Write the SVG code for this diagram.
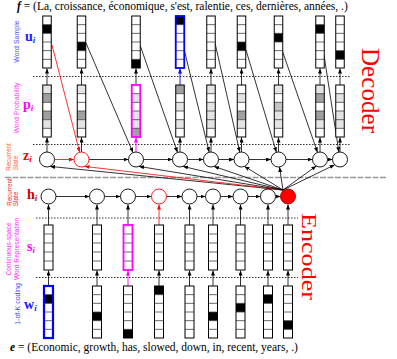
<svg xmlns="http://www.w3.org/2000/svg" xmlns:xlink="http://www.w3.org/1999/xlink" width="397" height="359" viewBox="0 0 397 359">
<defs>
<marker id="ak" viewBox="0 0 10 8" refX="10" refY="4" markerWidth="5" markerHeight="4" orient="auto" markerUnits="userSpaceOnUse"><path d="M0,0L10,4L0,8z" fill="#000"/></marker>
<marker id="ar" viewBox="0 0 10 8" refX="10" refY="4" markerWidth="5" markerHeight="4" orient="auto" markerUnits="userSpaceOnUse"><path d="M0,0L10,4L0,8z" fill="#ff0000"/></marker>
<marker id="am" viewBox="0 0 10 8" refX="10" refY="4" markerWidth="5" markerHeight="4" orient="auto" markerUnits="userSpaceOnUse"><path d="M0,0L10,4L0,8z" fill="#ff00ff"/></marker>
<marker id="ab" viewBox="0 0 10 8" refX="10" refY="4" markerWidth="5" markerHeight="4" orient="auto" markerUnits="userSpaceOnUse"><path d="M0,0L10,4L0,8z" fill="#0000ff"/></marker>
<path id="d6" d="M0,8.667h8.5M0,17.333h8.5M0,26h8.5M0,34.667h8.5M0,43.333h8.5" fill="none" stroke="#444" stroke-width="0.8"/>
<path id="d6w" d="M0,8.667h9M0,17.333h9M0,26h9M0,34.667h9M0,43.333h9" fill="none" stroke="#444" stroke-width="0.8"/>
<path id="d5" d="M0,9h9M0,18h9M0,27h9M0,36h9" fill="none" stroke="#444" stroke-width="0.8"/>
</defs>
<style>
.bg{fill:#fff}
.ol{fill:none;stroke:#000;stroke-width:1}
.k{fill:#000}
.L{fill:#e4e4e4}
.G{fill:#a0a0a0}
.M{fill:#c4c4c4}
.c{fill:#fff;stroke:#000;stroke-width:0.9}
.ln{fill:none;stroke:#000;stroke-width:0.8;marker-end:url(#ak)}
.lr{fill:none;stroke:#ff0000;stroke-width:0.8;marker-end:url(#ar)}
.lm{fill:none;stroke:#ff00ff;stroke-width:0.9;marker-end:url(#am)}
.lb{fill:none;stroke:#0000ff;stroke-width:0.9;marker-end:url(#ab)}
.dot{fill:none;stroke:#000;stroke-width:0.8;stroke-dasharray:1.5 1.5}
.lab{font-family:"Liberation Sans",Arial,sans-serif;font-size:7px;text-anchor:middle}
.rs{font-size:6.3px}
.sym{font-family:"Liberation Serif","Times New Roman",serif;font-size:14px;font-weight:bold}
.sub{font-style:italic;font-size:9px}
.seq{font-family:"Liberation Serif","Times New Roman",serif;font-size:11.5px;fill:#000}
.big{font-family:"Liberation Serif","Times New Roman",serif;fill:#ff0000}
</style>

<!-- texts -->
<text class="seq" x="17" y="10"><tspan font-style="italic" font-weight="bold">f</tspan> = (La, croissance, économique, s'est, ralentie, ces, dernières, années, .)</text>
<text class="seq" x="10" y="351"><tspan font-style="italic" font-weight="bold">e</tspan> = (Economic, growth, has, slowed, down, in, recent, years, .)</text>

<text class="big" font-size="26" transform="translate(362,48) rotate(90)" textLength="85" lengthAdjust="spacingAndGlyphs">Decoder</text>
<text class="big" font-size="21" transform="translate(302,213) rotate(90)" textLength="87" lengthAdjust="spacingAndGlyphs">Encoder</text>

<text class="lab" fill="#5050ff" transform="translate(19,41.5) rotate(-90)">Word Sample</text>
<text class="lab" fill="#ff40ff" transform="translate(19,108) rotate(-90)">Word Probability</text>
<text class="lab rs" fill="#ff6633" transform="translate(11,157) rotate(-90)">Recurrent</text>
<text class="lab rs" fill="#ff6633" transform="translate(17.5,163) rotate(-90)">State</text>
<text class="lab rs" fill="#ff2222" transform="translate(11.5,192) rotate(-90)">Recurrent</text>
<text class="lab rs" fill="#ff2222" transform="translate(18,199) rotate(-90)">State</text>
<text class="lab" fill="#ff33ff" style="font-size:6.6px" transform="translate(10.5,249) rotate(-90)">Continuous-space</text>
<text class="lab" fill="#ff33ff" style="font-size:6.6px" transform="translate(18.5,249) rotate(-90)">Word Representation</text>
<text class="lab" fill="#4444ff" transform="translate(20,304) rotate(-90)">1-of-K coding</text>

<text class="sym" fill="#2020ff" x="25" y="41">u<tspan class="sub" dy="2">i</tspan></text>
<text class="sym" fill="#ff00ff" x="23" y="109">p<tspan class="sub" dy="2">i</tspan></text>
<text class="sym" fill="#ff0000" x="23" y="160">z<tspan class="sub" dy="2">i</tspan></text>
<text class="sym" fill="#cc0000" x="27" y="198.5">h<tspan class="sub" dy="2">i</tspan></text>
<text class="sym" fill="#ff00ff" x="27" y="251">s<tspan class="sub" dy="2">i</tspan></text>
<text class="sym" fill="#2020ff" x="24" y="309">w<tspan class="sub" dy="2">i</tspan></text>

<!-- separators -->
<g id="separators">
<path d="M5,177.5H387" fill="none" stroke="#999" stroke-width="1.6" stroke-dasharray="6 1.5"/>
<path class="dot" d="M33,76.5H350"/>
<path class="dot" d="M33,144.5H350"/>
<path class="dot" d="M36,218H298"/>
<path class="dot" d="M36,277.5H298"/>
</g>

<!-- connectors -->
<g id="connectors">
<path class="ln" d="M47,85V68.5"/>
<path class="ln" d="M81.5,85V68.5"/>
<path class="ln" d="M136,85V68.5"/>
<path class="lb" d="M180,85V68.5"/>
<path class="ln" d="M211,85V68.5"/>
<path class="ln" d="M241.5,85V68.5"/>
<path class="ln" d="M278.5,85V68.5"/>
<path class="ln" d="M320,85V68.5"/>
<path class="ln" d="M340,85V68.5"/>
<path class="ln" d="M47,152V137.5"/>
<path class="ln" d="M81.5,152V137.5"/>
<path class="lm" d="M136,152V137.5"/>
<path class="ln" d="M180,152V137.5"/>
<path class="ln" d="M211,152V137.5"/>
<path class="ln" d="M241.5,152V137.5"/>
<path class="ln" d="M278.5,152V137.5"/>
<path class="ln" d="M320,152V137.5"/>
<path class="ln" d="M340,152V137.5"/>
<path class="lr" d="M54.5,159.5H74"/>
<path class="ln" d="M89,159.5H128.5"/>
<path class="ln" d="M143.5,159.5H172.5"/>
<path class="ln" d="M187.5,159.5H203.5"/>
<path class="ln" d="M218.5,159.5H234"/>
<path class="ln" d="M249,159.5H271"/>
<path class="ln" d="M286,159.5H312.5"/>
<path class="ln" d="M327.5,159.5H332.5"/>
<path class="lr" d="M52,45L79.6,152.2"/>
<path class="ln" d="M86,43L133,152.6"/>
<path class="ln" d="M140,45L177.5,152.4"/>
<path class="ln" d="M184,49L209.2,152.2"/>
<path class="ln" d="M215,43L239.8,152.2"/>
<path class="ln" d="M246,50L276.4,152.3"/>
<path class="ln" d="M282,50L317.5,152.4"/>
<path class="ln" d="M324,55L338.9,152.1"/>
<path class="ln" d="M283,190L50,166.4"/>
<path class="lr" d="M283,190L84.6,166.4"/>
<path class="ln" d="M283,190L139,166.4"/>
<path class="ln" d="M283,190L183,166.4"/>
<path class="ln" d="M283,190L214,166.4"/>
<path class="ln" d="M283,190L244.5,166.4"/>
<path class="ln" d="M283,190L279.5,167"/>
<path class="ln" d="M283,190L316.3,166"/>
<path class="ln" d="M283,190L334.7,164.8"/>
<path class="ln" d="M48.5,286V270.5"/>
<path class="ln" d="M97,286V270.5"/>
<path class="lm" d="M128,286V270.5"/>
<path class="ln" d="M159,286V270.5"/>
<path class="ln" d="M189.5,286V270.5"/>
<path class="ln" d="M213,286V270.5"/>
<path class="ln" d="M240.5,286V270.5"/>
<path class="ln" d="M268,286V270.5"/>
<path class="ln" d="M288,286V270.5"/>
<path class="ln" d="M48.5,225V204.5"/>
<path class="ln" d="M97,225V204.5"/>
<path class="ln" d="M128,225V204.5"/>
<path class="lr" d="M159,225V204.5"/>
<path class="ln" d="M189.5,225V204.5"/>
<path class="ln" d="M213,225V204.5"/>
<path class="ln" d="M240.5,225V204.5"/>
<path class="ln" d="M268,225V204.5"/>
<path class="ln" d="M288,225V204.5"/>
<path class="ln" d="M56,196.5H89.5"/>
<path class="ln" d="M104.5,196.5H120.5"/>
<path class="ln" d="M135.5,196.5H151.5"/>
<path class="ln" d="M166.5,196.5H182"/>
<path class="ln" d="M197,196.5H205.5"/>
<path class="ln" d="M220.5,196.5H233"/>
<path class="ln" d="M248,196.5H260.5"/>
<path class="ln" d="M275.5,196.5H280.5"/>
</g>

<!-- decoder u vectors -->
<g id="u1" transform="translate(42.75,16)"><rect class="bg" width="8.5" height="52"/><rect class="k" y="8.667" width="8.5" height="8.667"/><use xlink:href="#d6"/><rect class="ol" width="8.5" height="52"/></g>
<g id="u2" transform="translate(77.25,16)"><rect class="bg" width="8.5" height="52"/><rect class="k" y="26" width="8.5" height="8.667"/><use xlink:href="#d6"/><rect class="ol" width="8.5" height="52"/></g>
<g id="u3" transform="translate(131.75,16)"><rect class="bg" width="8.5" height="52"/><rect class="k" y="43.333" width="8.5" height="8.667"/><use xlink:href="#d6"/><rect class="ol" width="8.5" height="52"/></g>
<g id="u4" transform="translate(175.75,16)"><rect class="bg" width="8.5" height="52"/><rect class="k" y="0" width="8.5" height="8.667"/><use xlink:href="#d6"/><rect class="ol" width="8.5" height="52" style="stroke:#0000ff;stroke-width:1.8"/></g>
<g id="u5" transform="translate(206.75,16)"><rect class="bg" width="8.5" height="52"/><use xlink:href="#d6"/><rect class="ol" width="8.5" height="52"/></g>
<g id="u6" transform="translate(237.25,16)"><rect class="bg" width="8.5" height="52"/><rect class="k" y="26" width="8.5" height="8.667"/><use xlink:href="#d6"/><rect class="ol" width="8.5" height="52"/></g>
<g id="u7" transform="translate(274.25,16)"><rect class="bg" width="8.5" height="52"/><rect class="k" y="17.333" width="8.5" height="8.667"/><use xlink:href="#d6"/><rect class="ol" width="8.5" height="52"/></g>
<g id="u8" transform="translate(315.75,16)"><rect class="bg" width="8.5" height="52"/><rect class="k" y="8.667" width="8.5" height="8.667"/><use xlink:href="#d6"/><rect class="ol" width="8.5" height="52"/></g>
<g id="u9" transform="translate(335.75,16)"><rect class="bg" width="8.5" height="52"/><rect class="k" y="34.667" width="8.5" height="8.667"/><use xlink:href="#d6"/><rect class="ol" width="8.5" height="52"/></g>

<!-- decoder p vectors -->
<g id="p1" transform="translate(42.75,85)"><rect class="bg" width="8.5" height="52"/><rect class="L" y="0" width="8.5" height="8.667"/><rect class="G" y="8.667" width="8.5" height="8.667"/><rect class="G" y="26" width="8.5" height="8.667"/><rect class="L" y="34.667" width="8.5" height="8.667"/><use xlink:href="#d6"/><rect class="ol" width="8.5" height="52"/></g>
<g id="p2" transform="translate(77.25,85)"><rect class="bg" width="8.5" height="52"/><rect class="L" y="0" width="8.5" height="8.667"/><rect class="G" y="26" width="8.5" height="8.667"/><rect class="L" y="34.667" width="8.5" height="8.667"/><use xlink:href="#d6"/><rect class="ol" width="8.5" height="52"/></g>
<g id="p3" transform="translate(131.75,85)"><rect class="bg" width="8.5" height="52"/><rect class="L" y="8.667" width="8.5" height="8.667"/><rect class="L" y="26" width="8.5" height="8.667"/><rect class="L" y="34.667" width="8.5" height="8.667"/><rect class="G" y="43.333" width="8.5" height="8.667"/><use xlink:href="#d6"/><rect class="ol" width="8.5" height="52" style="stroke:#ff00ff;stroke-width:1.8"/></g>
<g id="p4" transform="translate(175.75,85)"><rect class="bg" width="8.5" height="52"/><rect class="G" y="0" width="8.5" height="8.667"/><rect class="L" y="17.333" width="8.5" height="8.667"/><rect class="L" y="34.667" width="8.5" height="8.667"/><use xlink:href="#d6"/><rect class="ol" width="8.5" height="52"/></g>
<g id="p5" transform="translate(206.75,85)"><rect class="bg" width="8.5" height="52"/><rect class="L" y="0" width="8.5" height="8.667"/><rect class="L" y="17.333" width="8.5" height="8.667"/><rect class="L" y="26" width="8.5" height="8.667"/><rect class="L" y="34.667" width="8.5" height="8.667"/><use xlink:href="#d6"/><rect class="ol" width="8.5" height="52"/></g>
<g id="p6" transform="translate(237.25,85)"><rect class="bg" width="8.5" height="52"/><rect class="L" y="8.667" width="8.5" height="8.667"/><rect class="G" y="26" width="8.5" height="8.667"/><rect class="L" y="34.667" width="8.5" height="8.667"/><use xlink:href="#d6"/><rect class="ol" width="8.5" height="52"/></g>
<g id="p7" transform="translate(274.25,85)"><rect class="bg" width="8.5" height="52"/><rect class="L" y="0" width="8.5" height="8.667"/><rect class="M" y="17.333" width="8.5" height="8.667"/><rect class="L" y="26" width="8.5" height="8.667"/><rect class="L" y="34.667" width="8.5" height="8.667"/><use xlink:href="#d6"/><rect class="ol" width="8.5" height="52"/></g>
<g id="p8" transform="translate(315.75,85)"><rect class="bg" width="8.5" height="52"/><rect class="L" y="0" width="8.5" height="8.667"/><rect class="G" y="8.667" width="8.5" height="8.667"/><rect class="G" y="26" width="8.5" height="8.667"/><rect class="L" y="34.667" width="8.5" height="8.667"/><use xlink:href="#d6"/><rect class="ol" width="8.5" height="52"/></g>
<g id="p9" transform="translate(335.75,85)"><rect class="bg" width="8.5" height="52"/><rect class="L" y="8.667" width="8.5" height="8.667"/><rect class="L" y="26" width="8.5" height="8.667"/><rect class="L" y="34.667" width="8.5" height="8.667"/><use xlink:href="#d6"/><rect class="ol" width="8.5" height="52"/></g>

<!-- decoder states z -->
<g id="z1"><circle class="c" cx="47" cy="159.5" r="7.5"/></g>
<g id="z2"><circle class="c" cx="81.5" cy="159.5" r="7.5" style="stroke:#ff0000"/></g>
<g id="z3"><circle class="c" cx="136" cy="159.5" r="7.5"/></g>
<g id="z4"><circle class="c" cx="180" cy="159.5" r="7.5"/></g>
<g id="z5"><circle class="c" cx="211" cy="159.5" r="7.5"/></g>
<g id="z6"><circle class="c" cx="241.5" cy="159.5" r="7.5"/></g>
<g id="z7"><circle class="c" cx="278.5" cy="159.5" r="7.5"/></g>
<g id="z8"><circle class="c" cx="320" cy="159.5" r="7.5"/></g>
<g id="z9"><circle class="c" cx="340" cy="159.5" r="7.5"/></g>

<!-- encoder states h -->
<g id="h1"><circle class="c" cx="48.5" cy="196.5" r="7.5"/></g>
<g id="h2"><circle class="c" cx="97" cy="196.5" r="7.5"/></g>
<g id="h3"><circle class="c" cx="128" cy="196.5" r="7.5"/></g>
<g id="h4"><circle class="c" cx="159" cy="196.5" r="7.5" style="stroke:#ff0000"/></g>
<g id="h5"><circle class="c" cx="189.5" cy="196.5" r="7.5"/></g>
<g id="h6"><circle class="c" cx="213" cy="196.5" r="7.5"/></g>
<g id="h7"><circle class="c" cx="240.5" cy="196.5" r="7.5"/></g>
<g id="h8"><circle class="c" cx="268" cy="196.5" r="7.5"/></g>
<g id="h9"><circle cx="288" cy="196.5" r="7.5" fill="#ff0000" stroke="#990000" stroke-width="0.9"/></g>

<!-- encoder s vectors -->
<g id="s1" transform="translate(44,225)"><rect class="bg" width="9" height="45"/><use xlink:href="#d5"/><rect class="ol" width="9" height="45"/></g>
<g id="s2" transform="translate(92.5,225)"><rect class="bg" width="9" height="45"/><use xlink:href="#d5"/><rect class="ol" width="9" height="45"/></g>
<g id="s3" transform="translate(123.5,225)"><rect class="bg" width="9" height="45"/><use xlink:href="#d5"/><rect class="ol" width="9" height="45" style="stroke:#ff00ff;stroke-width:1.8"/></g>
<g id="s4" transform="translate(154.5,225)"><rect class="bg" width="9" height="45"/><use xlink:href="#d5"/><rect class="ol" width="9" height="45"/></g>
<g id="s5" transform="translate(185,225)"><rect class="bg" width="9" height="45"/><use xlink:href="#d5"/><rect class="ol" width="9" height="45"/></g>
<g id="s6" transform="translate(208.5,225)"><rect class="bg" width="9" height="45"/><use xlink:href="#d5"/><rect class="ol" width="9" height="45"/></g>
<g id="s7" transform="translate(236,225)"><rect class="bg" width="9" height="45"/><use xlink:href="#d5"/><rect class="ol" width="9" height="45"/></g>
<g id="s8" transform="translate(263.5,225)"><rect class="bg" width="9" height="45"/><use xlink:href="#d5"/><rect class="ol" width="9" height="45"/></g>
<g id="s9" transform="translate(283.5,225)"><rect class="bg" width="9" height="45"/><use xlink:href="#d5"/><rect class="ol" width="9" height="45"/></g>

<!-- encoder w vectors -->
<g id="w1" transform="translate(44,286)"><rect class="bg" width="9" height="52"/><rect class="k" y="8.667" width="9" height="8.667"/><use xlink:href="#d6w"/><rect class="ol" width="9" height="52" style="stroke:#0000ff;stroke-width:2.2"/></g>
<g id="w2" transform="translate(92.5,286)"><rect class="bg" width="9" height="52"/><rect class="k" y="26" width="9" height="8.667"/><use xlink:href="#d6w"/><rect class="ol" width="9" height="52"/></g>
<g id="w3" transform="translate(123.5,286)"><rect class="bg" width="9" height="52"/><rect class="k" y="43.333" width="9" height="8.667"/><use xlink:href="#d6w"/><rect class="ol" width="9" height="52"/></g>
<g id="w4" transform="translate(154.5,286)"><rect class="bg" width="9" height="52"/><rect class="k" y="0" width="9" height="8.667"/><use xlink:href="#d6w"/><rect class="ol" width="9" height="52"/></g>
<g id="w5" transform="translate(185,286)"><rect class="bg" width="9" height="52"/><use xlink:href="#d6w"/><rect class="ol" width="9" height="52"/></g>
<g id="w6" transform="translate(208.5,286)"><rect class="bg" width="9" height="52"/><rect class="k" y="26" width="9" height="8.667"/><use xlink:href="#d6w"/><rect class="ol" width="9" height="52"/></g>
<g id="w7" transform="translate(236,286)"><rect class="bg" width="9" height="52"/><rect class="k" y="17.333" width="9" height="8.667"/><use xlink:href="#d6w"/><rect class="ol" width="9" height="52"/></g>
<g id="w8" transform="translate(263.5,286)"><rect class="bg" width="9" height="52"/><rect class="k" y="8.667" width="9" height="8.667"/><use xlink:href="#d6w"/><rect class="ol" width="9" height="52"/></g>
<g id="w9" transform="translate(283.5,286)"><rect class="bg" width="9" height="52"/><rect class="k" y="34.667" width="9" height="8.667"/><use xlink:href="#d6w"/><rect class="ol" width="9" height="52"/></g>
</svg>
